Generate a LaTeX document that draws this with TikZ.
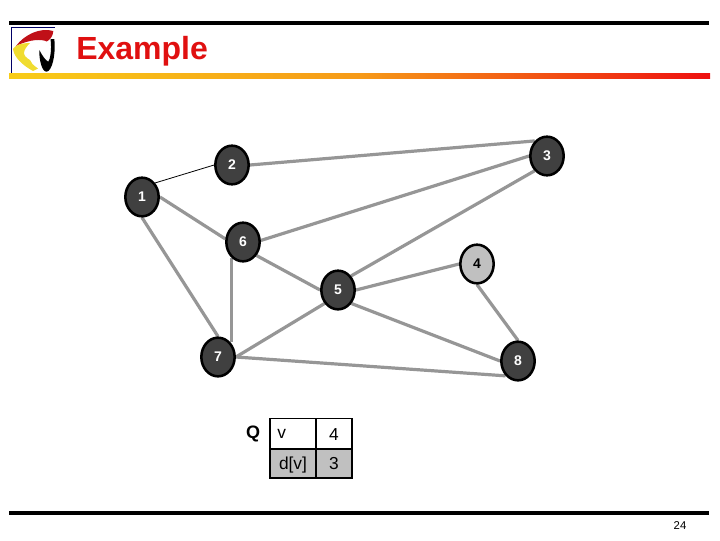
\documentclass[tikz,border=0pt]{standalone}
\usepackage{fontspec}
\setmainfont{Liberation Sans}
\usetikzlibrary{shapes.geometric,backgrounds}
\definecolor{nodedark}{HTML}{404040}
\definecolor{nodelight}{HTML}{C0C0C0}
\definecolor{edgegray}{HTML}{969696}
\definecolor{titlered}{HTML}{E01010}
\definecolor{ruleyellow}{HTML}{F8CC18}
\definecolor{ruleorange}{HTML}{F69A18}
\definecolor{rulered}{HTML}{EE1010}
\definecolor{logored}{HTML}{C01018}
\definecolor{logoyellow}{HTML}{F0DC30}
\tikzset{
  vertex/.style={ellipse,draw=black,line width=1.9pt,fill=nodedark,text=white,
    minimum width=25pt,minimum height=29pt,inner sep=0pt,font=\bfseries\fontsize{10.5}{12}\selectfont},
  vertexlight/.style={vertex,fill=nodelight,text=black},
  edge/.style={edgegray,line width=2.4pt},
  thinedge/.style={black,line width=0.6pt},
  cell/.style={draw=black,line width=1.3pt,inner sep=0pt,outer sep=0pt,text height=9.3pt,text depth=0pt,font=\fontsize{13}{15}\selectfont},
}
\begin{document}
\begin{tikzpicture}[x=0.75pt,y=-0.75pt]
\useasboundingbox (0,0) rectangle (720,540);
% rules
\fill[black] (9,21) rectangle (709,25);
\fill[black] (9,510.5) rectangle (709,514.5);
\shade[left color=ruleyellow,right color=ruleorange] (9,73) rectangle (360,78);
\shade[left color=ruleorange,right color=rulered] (360,73) rectangle (710,78);
% logo
\draw[black!60!blue,line width=0.5pt] (11.5,73) -- (11.5,27) -- (55,27);
\fill[logored] (16,46) .. controls (24,35) and (40,27) .. (53.3,31) .. controls (53,36) and (50,40) .. (46.7,41.5) .. controls (42,39) and (30,39) .. (16,46) -- cycle;
\fill[logoyellow] (30,43) .. controls (22,43) and (15,45) .. (13,49) .. controls (14,57) and (22,65) .. (33,71) -- (38,68.5) .. controls (33,65) and (31,63) .. (30,60) .. controls (26,58) and (24,55) .. (24,53) .. controls (24,50) and (27,46) .. (30,43) -- cycle;
\fill[black] (39.3,50) .. controls (39,60) and (42,72) .. (46.7,71.7) .. controls (52,71) and (56,55) .. (54.3,39) -- (50.5,39) .. controls (52,50) and (50,60) .. (48.3,61.7) .. controls (45,60) and (42,55) .. (39.3,50) -- cycle;
% title
\node[font=\bfseries\fontsize{24}{28}\selectfont,text=titlered,anchor=west,inner sep=0pt] (title) at (76,51.5) {Example};
% vertices
\node[vertex] (n1) at (142,197) {1};
\node[vertex] (n2) at (232,165) {2};
\node[vertex] (n3) at (547,156) {3};
\node[vertexlight] (n4) at (477,264) {4};
\node[vertex] (n5) at (338,290) {5};
\node[vertex] (n6) at (243,242) {6};
\node[vertex] (n7) at (218,357) {7};
\node[vertex] (n8) at (518,361) {8};
% edges
\begin{scope}[on background layer]
\draw[thinedge] (n1.47) -- (n2.180);
\draw[edge] (n2.0) -- (n3.129);
\draw[edge] (n3.180) -- (n6.5);
\draw[edge] (n3.230) -- (n5.47);
\draw[edge] (n5.0) -- (n4.180);
\draw[edge] (n5.-45) -- (n8.180);
\draw[edge] (n4.-90) -- (n8.90);
\draw[edge] (n7.0) -- (n8.230);
\draw[edge] (n7.0) -- (n5.225);
\draw[edge] (n6.-45) -- (n5.180);
\draw[edge] (n6.233) -- (n6.233 |- n7.51);
\draw[edge] (n1.-90) -- (n7.90);
\draw[edge] (n1.0) -- (n6.170);
\end{scope}
% table
\node[font=\bfseries\fontsize{13.5}{15}\selectfont,inner sep=0pt] (q) at (253,434) {Q};
\node[cell,minimum width=34.5pt,minimum height=23.25pt,anchor=north west] (c1) at (270,418.5) {};
\node[anchor=west,inner sep=0pt,font=\fontsize{13}{15}\selectfont] (v) at (277,434) {v};
\node[cell,minimum width=27pt,minimum height=23.25pt,anchor=north west] (c2) at (316,418.5) {4};
\node[cell,fill=nodelight,minimum width=34.5pt,minimum height=21.75pt,anchor=north west] (c3) at (270,449) {d[v]};
\node[cell,fill=nodelight,minimum width=27pt,minimum height=21.75pt,anchor=north west] (c4) at (316,449) {3};
% page number
\node[inner sep=0pt,font=\fontsize{8.5}{10}\selectfont] (page) at (680,526) {24};
\end{tikzpicture}
\end{document}
